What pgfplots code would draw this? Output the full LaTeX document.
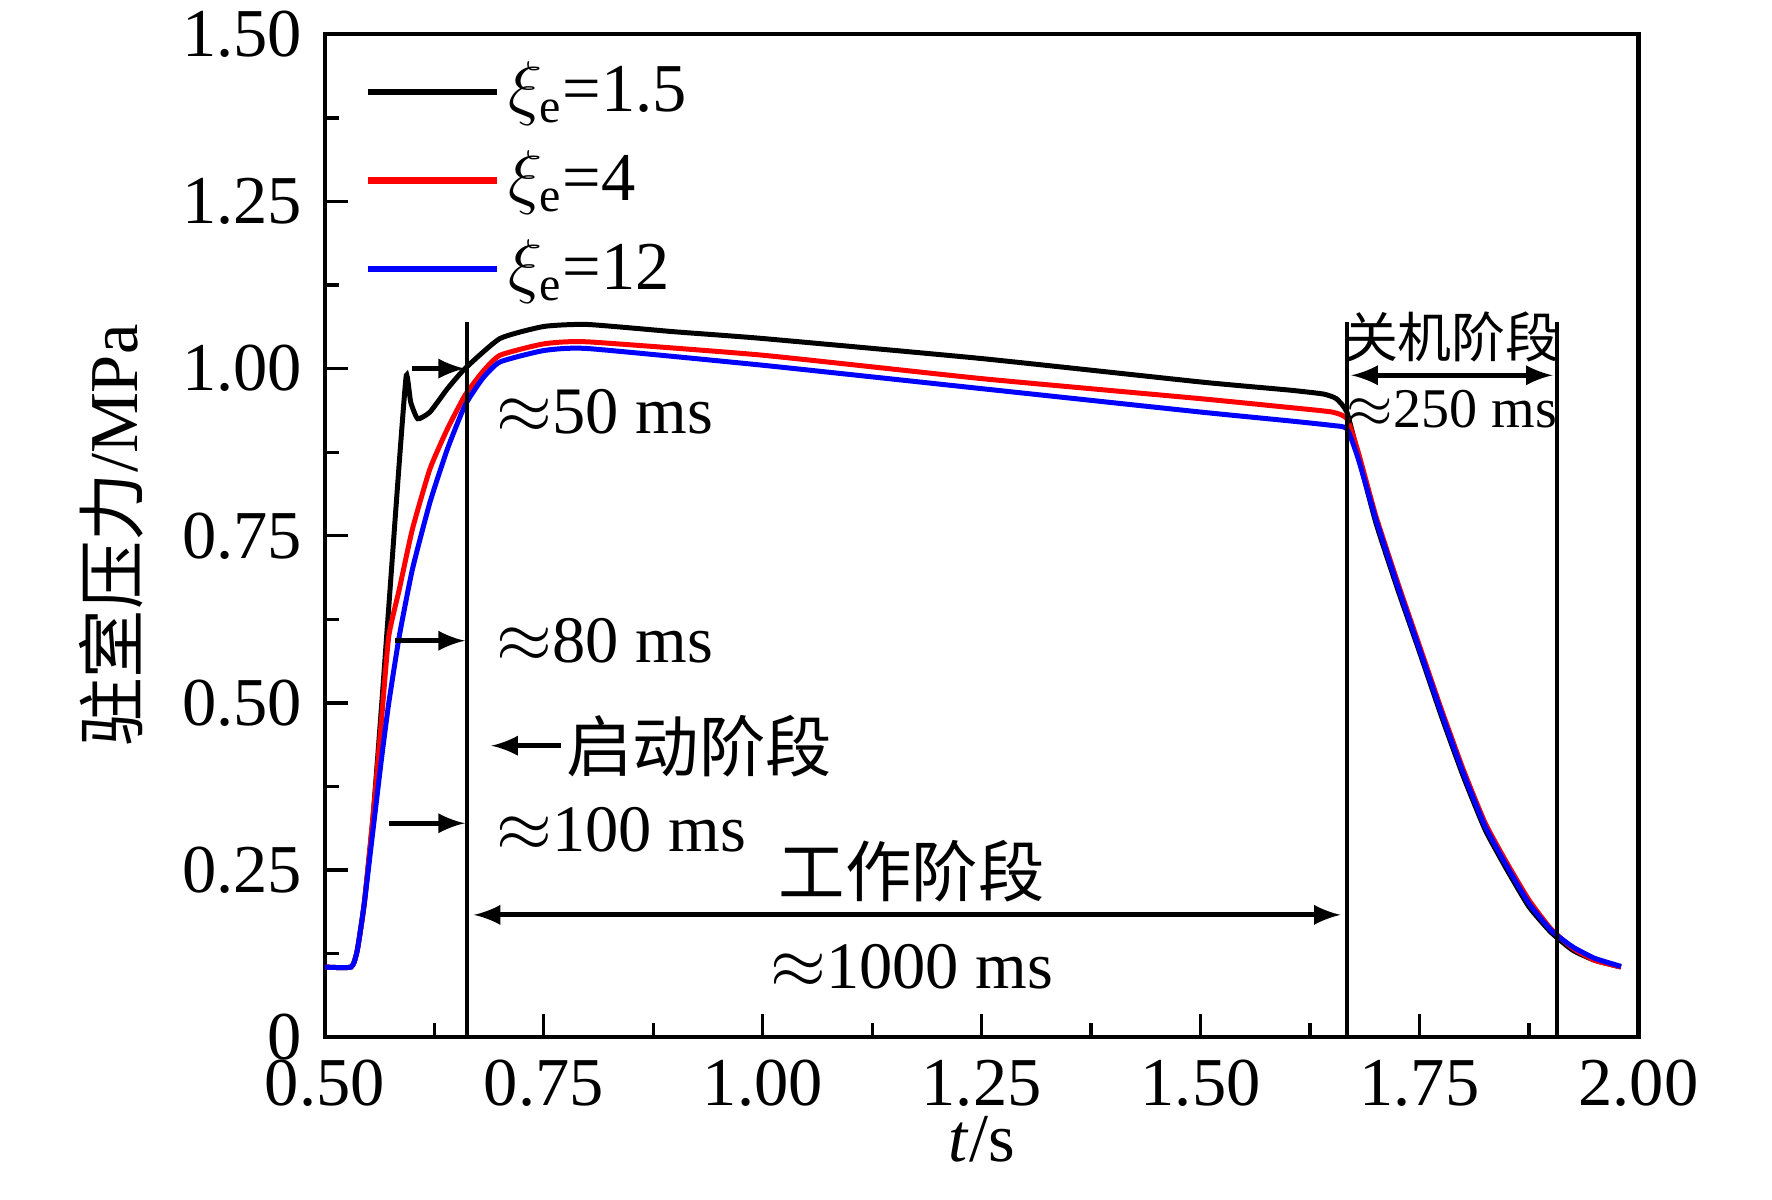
\documentclass[border=0pt]{standalone}
\usepackage{pgfplots}
\pgfplotsset{compat=1.18}
\usepackage{fontspec}
\setmainfont{Liberation Serif}
\newfontfamily\cjk{Noto Sans CJK SC}
\begin{document}
\fontsize{16}{19}\selectfont
\begin{tikzpicture}
\begin{axis}[scale only axis, width=11.12cm, height=8.49cm,
  xmin=0.5, xmax=2.0, ymin=0, ymax=1.5,
  xtick={0.5,0.75,...,2.0}, ytick={0,0.25,...,1.5},
  minor x tick num=1, minor y tick num=1,
  xticklabels={0.50,0.75,1.00,1.25,1.50,1.75,2.00},
  yticklabels={0,0.25,0.50,0.75,1.00,1.25,1.50},
  xtick pos=left, ytick pos=left, tick align=inside,
  major tick length=0.2cm, minor tick length=0.12cm,
  axis line style={line width=1pt}, tick style={line width=0.8pt,black},
  xlabel={\textit{t}/s}, ylabel={{\cjk 驻室压力}/MPa},
  xlabel style={yshift=0.3cm}, ylabel style={yshift=-0.05cm},
  tick label style={font=\fontsize{16.5}{19}\selectfont},
  label style={font=\fontsize{16.5}{19}\selectfont},
  legend cell align=left,
  legend style={at={(0.02,0.99)},anchor=north west,draw=none,fill=none,font=\fontsize{16.5}{20}\selectfont,row sep=3pt},
  legend image code/.code={\draw[#1,line width=1.5pt] (0cm,0cm) -- (1.1cm,0cm);},
]
\addplot[black,line width=1.2pt,smooth,tension=0.3] coordinates {(0.5,0.105)(0.53,0.105)(0.537,0.13)(0.545,0.2)(0.555,0.33)(0.565,0.5)(0.575,0.68)(0.585,0.86)(0.593,0.99)(0.598,0.95)(0.606,0.925)(0.62,0.935)(0.64,0.97)(0.66,1.0)(0.7,1.045)(0.75,1.063)(0.8,1.066)(0.9,1.055)(1.0,1.045)(1.25,1.015)(1.5,0.98)(1.6,0.968)(1.64,0.962)(1.655,0.955)(1.667,0.935)(1.68,0.87)(1.7,0.77)(1.725,0.67)(1.75,0.576)(1.775,0.48)(1.8,0.39)(1.825,0.31)(1.85,0.25)(1.875,0.195)(1.9,0.157)(1.925,0.13)(1.95,0.115)(1.98,0.105)};
\addlegendentry{$\xi_\mathrm{e}$=1.5}
\addplot[red,line width=1.2pt,smooth,tension=0.3] coordinates {(0.5,0.105)(0.53,0.105)(0.537,0.13)(0.545,0.2)(0.555,0.33)(0.565,0.48)(0.573,0.6)(0.585,0.67)(0.6,0.76)(0.62,0.85)(0.64,0.91)(0.66,0.96)(0.68,0.995)(0.7,1.02)(0.75,1.037)(0.8,1.04)(1.0,1.02)(1.25,0.985)(1.5,0.955)(1.6,0.942)(1.65,0.935)(1.667,0.925)(1.68,0.875)(1.7,0.78)(1.725,0.68)(1.75,0.585)(1.775,0.49)(1.8,0.4)(1.825,0.32)(1.85,0.26)(1.875,0.205)(1.9,0.162)(1.925,0.133)(1.95,0.115)(1.98,0.105)};
\addlegendentry{$\xi_\mathrm{e}$=4}
\addplot[blue,line width=1.2pt,smooth,tension=0.3] coordinates {(0.5,0.105)(0.53,0.105)(0.537,0.13)(0.545,0.2)(0.555,0.31)(0.565,0.42)(0.573,0.5)(0.585,0.6)(0.6,0.7)(0.62,0.8)(0.64,0.88)(0.66,0.945)(0.68,0.985)(0.7,1.01)(0.75,1.027)(0.8,1.03)(1.0,1.005)(1.25,0.97)(1.5,0.935)(1.6,0.922)(1.65,0.915)(1.667,0.91)(1.68,0.865)(1.7,0.775)(1.725,0.675)(1.75,0.58)(1.775,0.485)(1.8,0.395)(1.825,0.315)(1.85,0.255)(1.875,0.2)(1.9,0.16)(1.925,0.135)(1.95,0.118)(1.98,0.106)};
\addlegendentry{$\xi_\mathrm{e}$=12}
\draw[line width=1pt] (axis cs:0.662,0) -- (axis cs:0.662,1.07);
\draw[line width=1pt] (axis cs:1.667,0) -- (axis cs:1.667,1.07);
\draw[line width=1pt] (axis cs:1.907,0) -- (axis cs:1.907,1.07);
\draw[-latex,line width=1.2pt] (axis cs:0.6,1.0) -- (axis cs:0.66,1.0);
\node[anchor=west] at (axis cs:0.67,0.935) {$\approx$50 ms};
\draw[-latex,line width=1.2pt] (axis cs:0.58,0.593) -- (axis cs:0.66,0.593);
\node[anchor=west] at (axis cs:0.67,0.593) {$\approx$80 ms};
\draw[-latex,line width=1.2pt] (axis cs:0.77,0.436) -- (axis cs:0.69,0.436);
\node[anchor=west,inner sep=1pt] at (axis cs:0.77,0.436) {\cjk 启动阶段};
\draw[-latex,line width=1.2pt] (axis cs:0.573,0.32) -- (axis cs:0.66,0.32);
\node[anchor=west] at (axis cs:0.67,0.31) {$\approx$100 ms};
\node at (axis cs:1.17,0.248) {\cjk 工作阶段};
\draw[latex-latex,line width=1.2pt] (axis cs:0.67,0.183) -- (axis cs:1.66,0.183);
\node at (axis cs:1.17,0.106) {$\approx$1000 ms};
\node at (axis cs:1.787,1.047) {\fontsize{13}{15}\selectfont\cjk 关机阶段};
\draw[latex-latex,line width=1.2pt] (axis cs:1.672,0.99) -- (axis cs:1.902,0.99);
\node at (axis cs:1.787,0.94) {\fontsize{13.5}{16}\selectfont$\approx$250 ms};
\end{axis}
\pgfresetboundingbox
\path (-2.75,-1.37) rectangle (12.25,8.78);
\end{tikzpicture}
\end{document}
